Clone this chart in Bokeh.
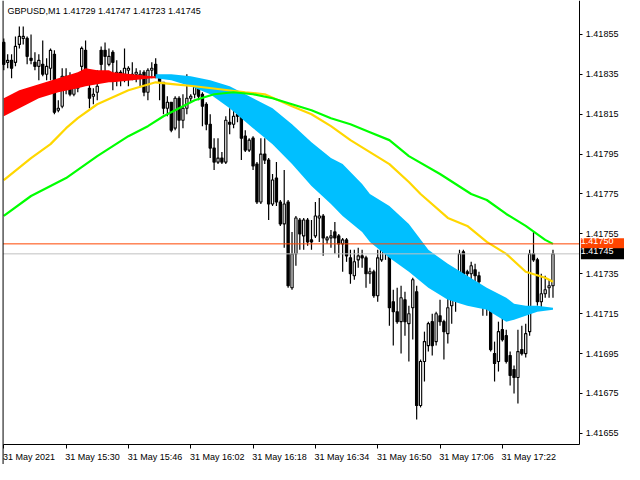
from bokeh.plotting import figure
from bokeh.models import (Range1d, FixedTicker, Span, Label, ColumnDataSource,
                          PrintfTickFormatter, LinearAxis)
from bokeh.embed import file_html
from bokeh.resources import INLINE

# ---------------- data (GBPUSD M1, bar index 0 = 31 May 15:14) ----------------
opens = [1.41851, 1.41841, 1.41842, 1.41841, 1.41850, 1.41853, 1.41853, 1.41843, 1.41841, 1.41839,
         1.41840, 1.41835, 1.41838, 1.41845, 1.41817, 1.41819, 1.41834, 1.41832, 1.41825, 1.41828,
         1.41839, 1.41847, 1.41828, 1.41824, 1.41826, 1.41847, 1.41847, 1.41840, 1.41846, 1.41832,
         1.41836, 1.41835, 1.41837, 1.41833, 1.41835, 1.41834, 1.41836, 1.41826, 1.41837, 1.41840,
         1.41833, 1.41831, 1.41818, 1.41821, 1.41808, 1.41823, 1.41812, 1.41818, 1.41823, 1.41825,
         1.41830, 1.41825, 1.41820, 1.41810, 1.41798, 1.41791, 1.41793, 1.41791, 1.41811, 1.41810,
         1.41815, 1.41814, 1.41804, 1.41797, 1.41803, 1.41790, 1.41771, 1.41795, 1.41792, 1.41770,
         1.41783, 1.41771, 1.41760, 1.41771, 1.41728, 1.41745, 1.41762, 1.41754, 1.41762, 1.41752,
         1.41754, 1.41763, 1.41764, 1.41752, 1.41753, 1.41756, 1.41754, 1.41750, 1.41752, 1.41743,
         1.41734, 1.41742, 1.41744, 1.41743, 1.41735, 1.41736, 1.41724, 1.41742, 1.41748, 1.41747,
         1.41721, 1.41716, 1.41711, 1.41722, 1.41710, 1.41718, 1.41726, 1.41669, 1.41691, 1.41699,
         1.41711, 1.41701, 1.41714, 1.41711, 1.41705, 1.41719, 1.41727, 1.41734, 1.41746, 1.41736,
         1.41735, 1.41737, 1.41734, 1.41727, 1.41722, 1.41717, 1.41695, 1.41691, 1.41707, 1.41704,
         1.41694, 1.41687, 1.41683, 1.41697, 1.41695, 1.41706, 1.41745, 1.41742, 1.41721, 1.41725,
         1.41728, 1.41729]
highs = [1.41853, 1.41845, 1.41845, 1.41854, 1.41859, 1.41859, 1.41854, 1.41855, 1.41846, 1.41845,
         1.41852, 1.41843, 1.41848, 1.41847, 1.41822, 1.41838, 1.41838, 1.41836, 1.41831, 1.41833,
         1.41849, 1.41852, 1.41833, 1.41828, 1.41837, 1.41849, 1.41851, 1.41848, 1.41847, 1.41842,
         1.41837, 1.41848, 1.41839, 1.41841, 1.41838, 1.41837, 1.41837, 1.41838, 1.41841, 1.41843,
         1.41834, 1.41831, 1.41824, 1.41821, 1.41824, 1.41824, 1.41825, 1.41835, 1.41825, 1.41832,
         1.41832, 1.41826, 1.41821, 1.41815, 1.41803, 1.41803, 1.41796, 1.41814, 1.41818, 1.41817,
         1.41820, 1.41815, 1.41807, 1.41803, 1.41804, 1.41791, 1.41803, 1.41803, 1.41793, 1.41785,
         1.41791, 1.41772, 1.41787, 1.41772, 1.41756, 1.41764, 1.41763, 1.41763, 1.41763, 1.41762,
         1.41771, 1.41773, 1.41765, 1.41754, 1.41757, 1.41761, 1.41755, 1.41753, 1.41753, 1.41747,
         1.41747, 1.41748, 1.41747, 1.41744, 1.41738, 1.41737, 1.41747, 1.41749, 1.41751, 1.41749,
         1.41727, 1.41728, 1.41729, 1.41726, 1.41719, 1.41733, 1.41729, 1.41692, 1.41706, 1.41711,
         1.41715, 1.41716, 1.41722, 1.41712, 1.41727, 1.41728, 1.41731, 1.41747, 1.41747, 1.41737,
         1.41741, 1.41740, 1.41736, 1.41728, 1.41724, 1.41718, 1.41701, 1.41711, 1.41714, 1.41707,
         1.41696, 1.41689, 1.41707, 1.41709, 1.41710, 1.41747, 1.41756, 1.41743, 1.41735, 1.41734,
         1.41732, 1.41747]
lows = [1.41837, 1.41838, 1.41833, 1.41839, 1.41848, 1.41850, 1.41840, 1.41840, 1.41837, 1.41832,
        1.41834, 1.41832, 1.41832, 1.41815, 1.41816, 1.41818, 1.41825, 1.41824, 1.41824, 1.41826,
        1.41834, 1.41833, 1.41818, 1.41820, 1.41822, 1.41836, 1.41835, 1.41839, 1.41827, 1.41829,
        1.41829, 1.41831, 1.41829, 1.41832, 1.41831, 1.41829, 1.41824, 1.41822, 1.41833, 1.41833,
        1.41822, 1.41815, 1.41814, 1.41806, 1.41807, 1.41803, 1.41808, 1.41815, 1.41821, 1.41823,
        1.41822, 1.41809, 1.41807, 1.41793, 1.41787, 1.41790, 1.41790, 1.41790, 1.41805, 1.41808,
        1.41811, 1.41792, 1.41796, 1.41796, 1.41787, 1.41770, 1.41770, 1.41790, 1.41762, 1.41769,
        1.41769, 1.41759, 1.41748, 1.41728, 1.41727, 1.41739, 1.41747, 1.41747, 1.41749, 1.41747,
        1.41753, 1.41751, 1.41744, 1.41750, 1.41748, 1.41745, 1.41743, 1.41736, 1.41741, 1.41730,
        1.41732, 1.41738, 1.41738, 1.41728, 1.41730, 1.41723, 1.41721, 1.41741, 1.41742, 1.41709,
        1.41699, 1.41710, 1.41695, 1.41704, 1.41691, 1.41702, 1.41662, 1.41668, 1.41681, 1.41696,
        1.41694, 1.41699, 1.41709, 1.41692, 1.41700, 1.41710, 1.41716, 1.41731, 1.41727, 1.41733,
        1.41731, 1.41731, 1.41727, 1.41714, 1.41714, 1.41696, 1.41681, 1.41686, 1.41701, 1.41690,
        1.41679, 1.41675, 1.41670, 1.41694, 1.41693, 1.41704, 1.41741, 1.41719, 1.41718, 1.41723,
        1.41723, 1.41723]
closes = [1.41840, 1.41842, 1.41838, 1.41849, 1.41854, 1.41854, 1.41844, 1.41842, 1.41839, 1.41842,
          1.41835, 1.41839, 1.41847, 1.41816, 1.41818, 1.41834, 1.41830, 1.41825, 1.41828, 1.41831,
          1.41848, 1.41836, 1.41823, 1.41825, 1.41829, 1.41840, 1.41844, 1.41844, 1.41841, 1.41836,
          1.41832, 1.41838, 1.41838, 1.41835, 1.41836, 1.41835, 1.41826, 1.41837, 1.41838, 1.41834,
          1.41831, 1.41818, 1.41821, 1.41807, 1.41823, 1.41812, 1.41818, 1.41823, 1.41824, 1.41829,
          1.41824, 1.41819, 1.41810, 1.41798, 1.41791, 1.41793, 1.41791, 1.41812, 1.41810, 1.41814,
          1.41814, 1.41803, 1.41797, 1.41802, 1.41789, 1.41771, 1.41795, 1.41792, 1.41770, 1.41782,
          1.41771, 1.41760, 1.41770, 1.41729, 1.41745, 1.41763, 1.41755, 1.41762, 1.41751, 1.41751,
          1.41764, 1.41764, 1.41753, 1.41753, 1.41754, 1.41753, 1.41750, 1.41752, 1.41744, 1.41735,
          1.41741, 1.41744, 1.41743, 1.41735, 1.41736, 1.41724, 1.41743, 1.41748, 1.41746, 1.41718,
          1.41716, 1.41711, 1.41723, 1.41711, 1.41715, 1.41732, 1.41669, 1.41691, 1.41701, 1.41710,
          1.41699, 1.41715, 1.41711, 1.41706, 1.41718, 1.41724, 1.41724, 1.41745, 1.41734, 1.41735,
          1.41739, 1.41734, 1.41731, 1.41722, 1.41718, 1.41697, 1.41690, 1.41706, 1.41702, 1.41691,
          1.41684, 1.41683, 1.41696, 1.41695, 1.41705, 1.41745, 1.41742, 1.41721, 1.41725, 1.41727,
          1.41729, 1.41745]

# moving averages (bar index, price)
yellow_x = [0, 7, 12, 16, 19, 24, 32, 39, 44, 49, 62, 67, 74, 79, 84, 89, 94, 99, 104, 107, 114, 119, 124, 129, 134, 139, 141]
yellow_y = [1.41782, 1.41793, 1.41800, 1.41808, 1.41813, 1.41820, 1.41827, 1.41831, 1.41830, 1.41829,
            1.41826, 1.41825, 1.41819, 1.41815, 1.41809, 1.41802, 1.41796, 1.41790, 1.41781, 1.41775,
            1.41763, 1.41759, 1.41751, 1.41745, 1.41736, 1.41733, 1.41731]
green_x = [0, 7, 16, 24, 32, 37, 41, 44, 49, 54, 59, 64, 69, 74, 79, 84, 89, 94, 99, 104, 112, 120, 124, 129, 134, 139, 141]
green_y = [1.41764, 1.41774, 1.41783, 1.41794, 1.41804, 1.41809, 1.41814, 1.41817, 1.41822, 1.41825,
           1.41826, 1.41825, 1.41823, 1.41820, 1.41817, 1.41813, 1.41810, 1.41806, 1.41802, 1.41794,
           1.41785, 1.41775, 1.41772, 1.41765, 1.41759, 1.41752, 1.41750]

# cloud band: red part then blue part
red_x = [0, 4, 9, 14, 19, 21, 24, 27, 28, 33, 38, 39]
red_hi = [1.41823, 1.41827, 1.41830, 1.41833, 1.41836, 1.41838, 1.41837, 1.41837, 1.41836, 1.41835, 1.41834, 1.41834]
red_lo = [1.41814, 1.41818, 1.41823, 1.41826, 1.41828, 1.41829, 1.41830, 1.41831, 1.41831, 1.41832, 1.41833, 1.41833]
blue_x = [39, 43, 48, 53, 58, 64, 69, 74, 79, 84, 87, 92, 94, 99, 104, 109, 114, 119, 124, 129, 131, 134, 137, 141]
blue_hi = [1.41835, 1.41835, 1.41834, 1.41832, 1.41829, 1.41823, 1.41818, 1.41810, 1.41801, 1.41793, 1.41790, 1.41780,
           1.41775, 1.41769, 1.41760, 1.41747, 1.41740, 1.41734, 1.41728, 1.41723, 1.41720, 1.41719, 1.41719, 1.41718]
blue_lo = [1.41833, 1.41832, 1.41829, 1.41825, 1.41818, 1.41808, 1.41800, 1.41790, 1.41779, 1.41770, 1.41764, 1.41756,
           1.41751, 1.41743, 1.41736, 1.41728, 1.41722, 1.41719, 1.41717, 1.41711, 1.41712, 1.41714, 1.41716, 1.41717]

ask_level = 1.41750
bid_level = 1.41745
title_text = "GBPUSD,M1  1.41729 1.41747 1.41723 1.41745"

y_ticks = [1.41655, 1.41675, 1.41695, 1.41715, 1.41735, 1.41755, 1.41775, 1.41795, 1.41815, 1.41835, 1.41855]
x_ticks = [0, 16, 32, 48, 64, 80, 96, 112, 128]
x_labels = ["31 May 2021", "31 May 15:30", "31 May 15:46", "31 May 16:02", "31 May 16:18",
            "31 May 16:34", "31 May 16:50", "31 May 17:06", "31 May 17:22"]

FONT = "Liberation Sans"
FS = "9px"

# chart window geometry (bar units / price units)
X0, X1 = -0.84, 159.36          # whole canvas width
Y0, Y1 = 1.416394, 1.418720     # whole canvas height
SCALE_X = 147.9                 # price scale line (right edge of chart area)
LEFT_X = -0.18                  # left edge of chart area
BOTTOM_Y = 1.416492             # bottom edge of chart area

p = figure(width=624, height=464, output_backend="svg", toolbar_location=None,
           x_range=Range1d(X0, X1), y_range=Range1d(Y0, Y1),
           x_axis_location=None, y_axis_location=None,
           min_border_left=0, min_border_right=0, min_border_top=0, min_border_bottom=0)
p.grid.visible = False
p.outline_line_color = None
p.background_fill_color = "white"
p.border_fill_color = "white"

# price scale on the right
ya = LinearAxis(fixed_location=SCALE_X, bounds=(BOTTOM_Y, Y1))
ya.ticker = FixedTicker(ticks=y_ticks, minor_ticks=[])
ya.formatter = PrintfTickFormatter(format="%.5f")
ya.axis_line_color = "black"
ya.major_tick_line_color = "black"
ya.major_tick_out = 3
ya.major_tick_in = 0
ya.minor_tick_line_color = None
ya.major_label_standoff = 3
ya.major_label_text_font = FONT
ya.major_label_text_font_size = FS
ya.major_label_text_color = "black"
p.add_layout(ya, "right")

# time scale at the bottom (labels drawn left aligned like MT4)
xa = LinearAxis(fixed_location=BOTTOM_Y, bounds=(LEFT_X, SCALE_X))
xa.ticker = FixedTicker(ticks=x_ticks, minor_ticks=[])
xa.axis_line_color = "black"
xa.major_tick_line_color = "black"
xa.major_tick_out = 4
xa.major_tick_in = 0
xa.minor_tick_line_color = None
xa.major_label_text_alpha = 0
xa.major_label_text_font_size = FS
p.add_layout(xa, "below")

for t, lab in zip(x_ticks, x_labels):
    p.add_layout(Label(x=t - 0.2, y=8, y_units="screen", text=lab, text_align="left",
                       text_baseline="middle", text_font=FONT, text_font_size=FS, text_color="black"))

# left frame border
p.add_layout(Span(location=LEFT_X, dimension="height", line_color="black", line_width=1))

# candles
idx = list(range(len(opens)))
tops = [max(o, c) for o, c in zip(opens, closes)]
bots = [min(o, c) for o, c in zip(opens, closes)]
fills = ["white" if c >= o else "black" for o, c in zip(opens, closes)]
src = ColumnDataSource(dict(x=idx, h=highs, l=lows, top=tops, bottom=bots, fill=fills))
p.segment(x0="x", y0="l", x1="x", y1="h", source=src, line_color="black", line_width=1.2)
p.vbar(x="x", width=0.58, top="top", bottom="bottom", fill_color="fill", line_color="black",
       line_width=1.1, source=src)

# cloud band
p.varea(x=red_x, y1=red_lo, y2=red_hi, fill_color="#FF0000")
p.varea(x=blue_x, y1=blue_lo, y2=blue_hi, fill_color="#00BFFF")

# moving averages
p.line(yellow_x, yellow_y, line_color="#FFD700", line_width=2.2)
p.line(green_x, green_y, line_color="#00FF00", line_width=2.2)

# price lines (end at the price scale)
p.segment(x0=[LEFT_X, LEFT_X], y0=[bid_level, ask_level], x1=[SCALE_X, SCALE_X], y1=[bid_level, ask_level],
          line_color=["#C0C0C0", "#FF4500"], line_width=1)

# price boxes on the scale
p.add_layout(Label(x=SCALE_X, y=ask_level, text=f"{ask_level:.5f}", x_offset=1,
                   text_align="left", text_baseline="middle", text_font=FONT, text_font_size=FS,
                   text_color="white", background_fill_color="#FF4500", padding=(0, 12, 0, 5)))
p.add_layout(Label(x=SCALE_X, y=bid_level, text=f"{bid_level:.5f}", x_offset=1,
                   text_align="left", text_baseline="middle", text_font=FONT, text_font_size=FS,
                   text_color="white", background_fill_color="black", padding=(0, 12, 0, 5)))

# title
p.add_layout(Label(x=7, y=453.7, x_units="screen", y_units="screen", text=title_text,
                   text_align="left", text_baseline="middle", text_font=FONT, text_font_size=FS,
                   text_color="black"))

open("out.html", "w").write(file_html(p, INLINE))
